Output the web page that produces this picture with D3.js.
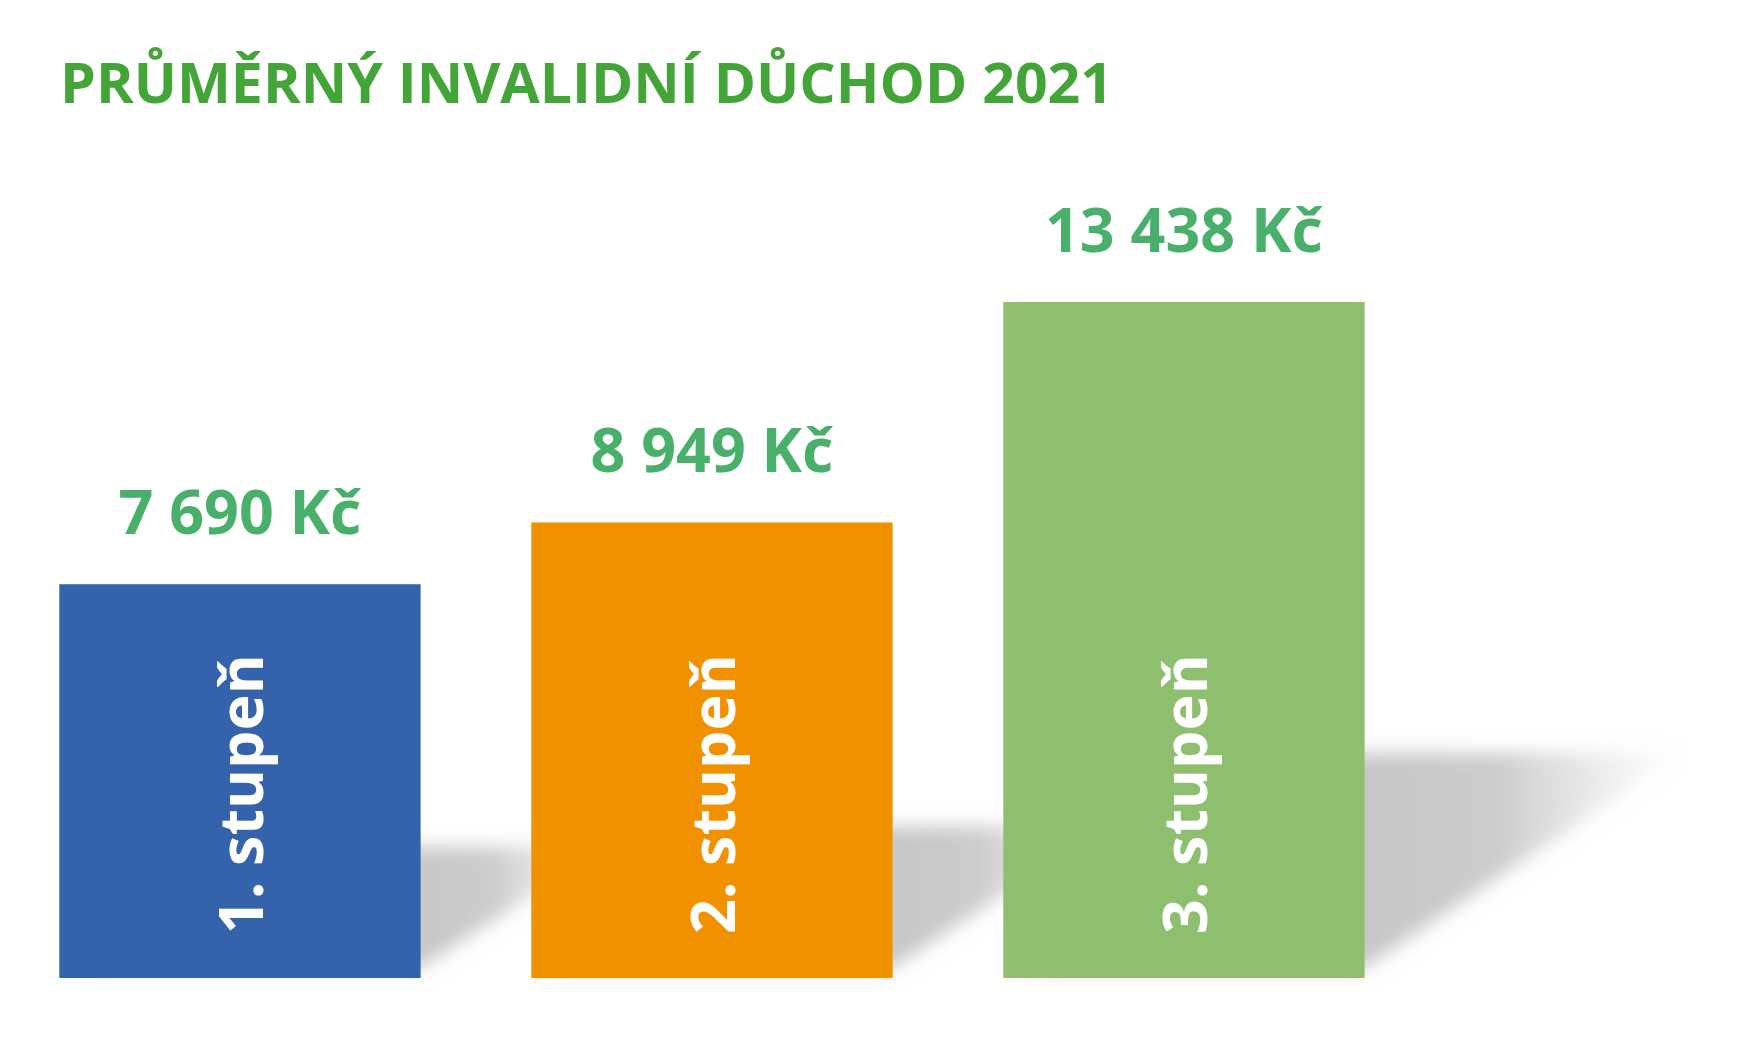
<!DOCTYPE html>
<html>
<head>
<meta charset="utf-8">
<script src="https://cdn.jsdelivr.net/npm/d3@7"></script>
<style>
  html, body { margin: 0; padding: 0; background: #ffffff; }
  svg { display: block; }
  text { font-family: "Open Sans", "Noto Sans", sans-serif; }
</style>
</head>
<body>
<svg id="chart" width="1754" height="1055"></svg>
<script>
// ---- data ----
const title = "PRŮMĚRNÝ INVALIDNÍ DŮCHOD 2021";
const categories = ["1. stupeň", "2. stupeň", "3. stupeň"];
const values = [7690, 8949, 13438];
const valueLabels = ["7 690 Kč", "8 949 Kč", "13 438 Kč"];
const barColors = ["#3463AC", "#F29100", "#8DBF6F"];

// ---- layout ----
const W = 1754, H = 1055;
const svg = d3.select("#chart");

const x = d3.scaleBand()
  .domain(categories)
  .range([59.3, 1364.6])
  .paddingInner(0.2345)
  .paddingOuter(0);

const y = d3.scaleLinear()
  .domain([-330, d3.max(values)])
  .range([978, 302]);

const base = y(-330);

const data = categories.map((c, i) => ({ cat: c, v: values[i], label: valueLabels[i], color: barColors[i] }));

// ---- shadows ----
const defs = svg.append("defs");
defs.append("filter")
  .attr("id", "blur")
  .attr("x", "-20%").attr("y", "-50%").attr("width", "140%").attr("height", "200%")
  .append("feGaussianBlur").attr("stdDeviation", 9);

data.forEach((d, i) => {
  const x0 = x(d.cat), x1 = x0 + x.bandwidth();
  const h = base - y(d.v);
  const dx = h * 0.47;
  const g = defs.append("linearGradient")
    .attr("id", "sg" + i)
    .attr("gradientUnits", "userSpaceOnUse")
    .attr("x1", x1 - 20).attr("y1", 0)
    .attr("x2", x1 + dx).attr("y2", 0);
  g.append("stop").attr("offset", 0).attr("stop-color", "#c6c6c6").attr("stop-opacity", 1);
  g.append("stop").attr("offset", 0.45).attr("stop-color", "#c9c9c9").attr("stop-opacity", 0.95);
  g.append("stop").attr("offset", 1).attr("stop-color", "#d8d8d8").attr("stop-opacity", 0);
  const xs = x0 + 40;
  d.shadow = [[xs, base - 10], [x1, base - 10], [x1 + dx, base - h / 3], [xs, base - h / 3]];
});

svg.append("g").attr("class", "shadows")
  .selectAll("polygon").data(data).join("polygon")
  .attr("points", d => d.shadow.map(p => p.join(",")).join(" "))
  .attr("fill", (d, i) => `url(#sg${i})`)
  .attr("filter", "url(#blur)");

// ---- bars ----
svg.append("g").attr("class", "bars")
  .selectAll("rect").data(data).join("rect")
  .attr("x", d => x(d.cat))
  .attr("y", d => y(d.v))
  .attr("width", x.bandwidth())
  .attr("height", d => base - y(d.v))
  .attr("fill", d => d.color);

// ---- value labels ----
svg.append("g").attr("class", "values")
  .selectAll("text").data(data).join("text")
  .attr("x", d => x(d.cat) + x.bandwidth() / 2)
  .attr("y", d => y(d.v) - 50)
  .attr("text-anchor", "middle")
  .attr("font-size", 61)
  .attr("font-weight", 700)
  .attr("fill", "#48B06A")
  .text(d => d.label);

// ---- category labels inside bars (rotated) ----
svg.append("g").attr("class", "cats")
  .selectAll("text").data(data).join("text")
  .attr("transform", d => `translate(${x(d.cat) + x.bandwidth() / 2 + 23},${base - 44}) rotate(-90)`)
  .attr("text-anchor", "start")
  .attr("font-size", 61)
  .attr("font-weight", 700)
  .attr("fill", "#ffffff")
  .text(d => d.cat);

// ---- title ----
svg.append("text")
  .attr("x", 60)
  .attr("y", 103)
  .attr("font-size", 56)
  .attr("font-weight", 700)
  .attr("fill", "#43A537")
  .attr("textLength", 1053)
  .attr("lengthAdjust", "spacingAndGlyphs")
  .text(title);
</script>
</body>
</html>
